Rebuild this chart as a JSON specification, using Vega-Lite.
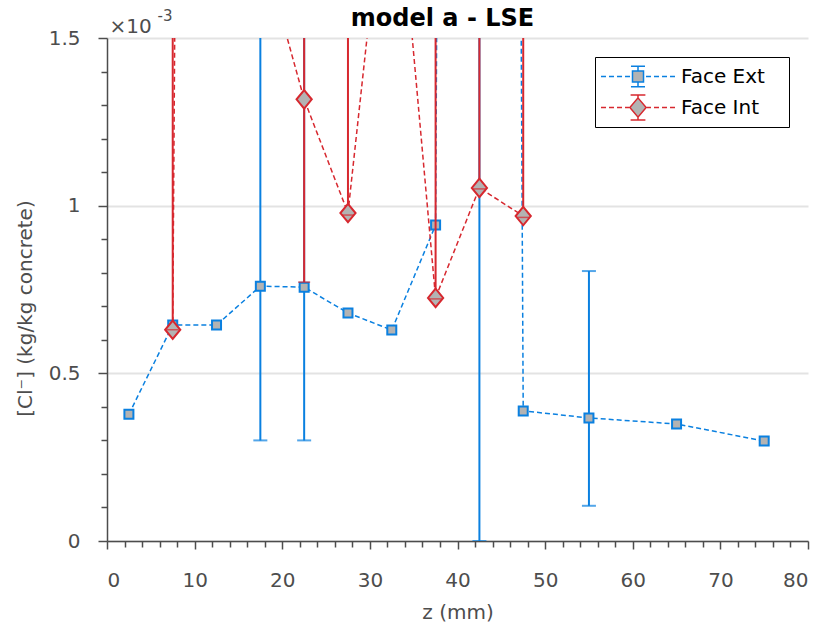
{
  "$schema": "https://vega.github.io/schema/vega-lite/v6.json",
  "autosize": "none",
  "width": 701,
  "height": 503,
  "padding": {"left": 107, "top": 38, "right": 14, "bottom": 84},
  "background": "white",
  "config": {
    "view": {"stroke": null},
    "font": "DejaVu Sans",
    "axis": {
      "labelFont": "DejaVu Sans",
      "titleFont": "DejaVu Sans",
      "labelFontSize": 20,
      "titleFontSize": 20,
      "titleFontWeight": "normal",
      "labelColor": "#4d4d4d",
      "titleColor": "#4d4d4d",
      "domainColor": "#4d4d4d",
      "tickColor": "#4d4d4d",
      "domainWidth": 1.5,
      "tickWidth": 1.5,
      "gridColor": "#e3e3e3",
      "gridWidth": 2,
      "gridOpacity": 1
    },
    "legend": {
      "labelFont": "DejaVu Sans",
      "labelFontSize": 20,
      "labelColor": "black"
    }
  },
  "data": {
    "values": [
      {"series": "Face Ext", "z": 2.5, "c": 0.000378},
      {"series": "Face Ext", "z": 7.5, "c": 0.000644},
      {"series": "Face Ext", "z": 12.5, "c": 0.000644},
      {"series": "Face Ext", "z": 17.5, "c": 0.00076, "lo": 0.0003, "hi": 0.0025},
      {"series": "Face Ext", "z": 22.5, "c": 0.000757, "lo": 0.0003, "hi": 0.0025},
      {"series": "Face Ext", "z": 27.5, "c": 0.00068},
      {"series": "Face Ext", "z": 32.5, "c": 0.000629},
      {"series": "Face Ext", "z": 37.5, "c": 0.000942},
      {"series": "Face Ext", "z": 42.5, "c": 0.025, "lo": 0, "hi": 0.05},
      {"series": "Face Ext", "z": 47.5, "c": 0.000388},
      {"series": "Face Ext", "z": 55, "c": 0.000367, "lo": 0.000105, "hi": 0.000805},
      {"series": "Face Ext", "z": 65, "c": 0.000349},
      {"series": "Face Ext", "z": 75, "c": 0.000298},
      {"series": "Face Int", "z": 7.5, "c": 0.00063, "lo": 0.00063, "hi": 0.01},
      {"series": "Face Int", "z": 12.5, "c": 0.02},
      {"series": "Face Int", "z": 17.5, "c": 0.00179},
      {"series": "Face Int", "z": 22.5, "c": 0.001317, "lo": 0.000772, "hi": 0.005},
      {"series": "Face Int", "z": 27.5, "c": 0.000978, "lo": 0.000972, "hi": 0.005},
      {"series": "Face Int", "z": 32.5, "c": 0.00218},
      {"series": "Face Int", "z": 37.5, "c": 0.000725, "lo": 0.000722, "hi": 0.005},
      {"series": "Face Int", "z": 42.5, "c": 0.001053, "lo": 0.00105, "hi": 0.005},
      {"series": "Face Int", "z": 47.5, "c": 0.000969, "lo": 0.000965, "hi": 0.005}
    ]
  },
  "resolve": {"axis": {"x": "independent", "y": "independent"}},
  "layer": [
    {
      "transform": [{"filter": "datum.series === 'Face Ext'"}],
      "mark": {"type": "line", "clip": true, "color": "#0a80e0", "strokeWidth": 1.5, "strokeDash": [5, 3]},
      "encoding": {
        "x": {"field": "z", "type": "quantitative", "scale": {"domain": [0, 80], "nice": false},
          "axis": {"orient": "bottom", "values": [0, 10, 20, 30, 40, 50, 60, 70, 80], "tickSize": 8, "labelPadding": 21, "grid": false, "title": "z (mm)", "titlePadding": 12}},
        "y": {"field": "c", "type": "quantitative", "scale": {"domain": [0, 0.0015], "nice": false, "zero": false},
          "axis": {"orient": "left", "values": [0, 0.0005, 0.001, 0.0015], "labelExpr": "format(datum.value*1000, '.2~f')", "tickSize": 9, "labelPadding": 18, "grid": true, "title": "[Cl⁻] (kg/kg concrete)", "titlePadding": 13, "titleY": 270}},
        "order": {"field": "z", "type": "quantitative"}
      }
    },
    {
      "transform": [{"filter": "datum.series === 'Face Ext' && isValid(datum.lo)"}],
      "mark": {"type": "rule", "clip": true, "color": "#0a80e0", "strokeWidth": 2},
      "encoding": {
        "x": {"field": "z", "type": "quantitative",
          "axis": {"orient": "bottom", "values": [2, 4, 6, 8, 12, 14, 16, 18, 22, 24, 26, 28, 32, 34, 36, 38, 42, 44, 46, 48, 52, 54, 56, 58, 62, 64, 66, 68, 72, 74, 76, 78], "labels": false, "domain": false, "grid": false, "tickSize": 6, "title": null}},
        "y": {"field": "lo", "type": "quantitative",
          "axis": {"orient": "left", "values": [0.0001, 0.0002, 0.0003, 0.0004, 0.0006, 0.0007, 0.0008, 0.0009, 0.0011, 0.0012, 0.0013, 0.0014], "labels": false, "domain": false, "grid": false, "tickSize": 6,
            "title": "×10", "titleAngle": 0, "titleAlign": "left", "titleBaseline": "alphabetic", "titleX": 2, "titleY": -6, "titleFontSize": 20}},
        "y2": {"field": "hi"}
      }
    },
    {
      "transform": [{"filter": "datum.series === 'Face Ext' && isValid(datum.lo)"}],
      "mark": {"type": "tick", "orient": "horizontal", "clip": true, "color": "#0a80e0", "size": 14, "thickness": 2},
      "encoding": {
        "x": {"field": "z", "type": "quantitative", "axis": null},
        "y": {"field": "lo", "type": "quantitative",
          "axis": {"orient": "left", "labels": false, "ticks": false, "domain": false, "grid": false,
            "title": "-3", "titleAngle": 0, "titleAlign": "left", "titleBaseline": "alphabetic", "titleX": 50, "titleY": -18, "titleFontSize": 15}}
      }
    },
    {
      "transform": [{"filter": "datum.series === 'Face Ext' && isValid(datum.hi)"}],
      "mark": {"type": "tick", "orient": "horizontal", "clip": true, "color": "#0a80e0", "size": 14, "thickness": 2},
      "encoding": {
        "x": {"field": "z", "type": "quantitative", "axis": null},
        "y": {"field": "hi", "type": "quantitative", "axis": null}
      }
    },
    {
      "transform": [{"filter": "datum.series === 'Face Ext'"}],
      "mark": {"type": "point", "clip": true, "shape": "square", "size": 81, "filled": true, "fill": "#b3b3b3", "stroke": "#0a80e0", "strokeWidth": 2, "opacity": 1},
      "encoding": {
        "x": {"field": "z", "type": "quantitative", "axis": null},
        "y": {"field": "c", "type": "quantitative", "axis": null}
      }
    },
    {
      "transform": [{"filter": "datum.series === 'Face Int'"}],
      "mark": {"type": "line", "clip": true, "color": "#d7282f", "strokeWidth": 1.5, "strokeDash": [5, 3]},
      "encoding": {
        "x": {"field": "z", "type": "quantitative", "axis": null},
        "y": {"field": "c", "type": "quantitative", "axis": null},
        "order": {"field": "z", "type": "quantitative"}
      }
    },
    {
      "transform": [{"filter": "datum.series === 'Face Int' && isValid(datum.lo)"}],
      "mark": {"type": "rule", "clip": true, "color": "#d7282f", "strokeWidth": 2},
      "encoding": {
        "x": {"field": "z", "type": "quantitative", "axis": null},
        "y": {"field": "lo", "type": "quantitative", "axis": null},
        "y2": {"field": "hi"}
      }
    },
    {
      "transform": [{"filter": "datum.series === 'Face Int'"}],
      "mark": {"type": "point", "clip": true, "shape": "M0,-1.15L0.95,0L0,1.15L-0.95,0Z", "size": 256, "filled": true, "fill": "#b3b3b3", "stroke": "#d7282f", "strokeWidth": 2, "opacity": 1},
      "encoding": {
        "x": {"field": "z", "type": "quantitative", "axis": null},
        "y": {"field": "c", "type": "quantitative", "axis": null}
      }
    },
    {
      "transform": [{"filter": "datum.series === 'Face Int' && isValid(datum.lo)"}],
      "mark": {"type": "tick", "orient": "horizontal", "clip": true, "color": "#d7282f", "size": 12, "thickness": 1.5},
      "encoding": {
        "x": {"field": "z", "type": "quantitative", "axis": null},
        "y": {"field": "lo", "type": "quantitative", "axis": null}
      }
    },
    {
      "mark": {"type": "point", "clip": true, "opacity": 0, "filled": true, "fill": "#b3b3b3", "strokeWidth": 1.5},
      "encoding": {
        "x": {"field": "z", "type": "quantitative",
          "axis": {"orient": "top", "labels": false, "ticks": false, "domain": false, "grid": false,
            "title": "model a - LSE", "titleFontSize": 24, "titleFontWeight": "bold", "titleColor": "black", "titleAngle": 0, "titleAlign": "center", "titleBaseline": "alphabetic", "titleX": 335, "titleY": -13}},
        "y": {"field": "c", "type": "quantitative", "axis": null},
        "stroke": {"field": "series", "type": "nominal",
          "scale": {"domain": ["Face Ext", "Face Int"], "range": ["#0a80e0", "#d7282f"]},
          "legend": {"title": null, "orient": "top-right", "offset": 19, "padding": 5, "clipHeight": 29, "symbolSize": 5476, "symbolOpacity": 1, "symbolFillColor": "#b3b3b3", "symbolStrokeWidth": 1.5, "labelOffset": 5, "strokeColor": "black", "fillColor": "white", "labelExpr": "datum.label + '\u00a0\u00a0\u00a0\u200b'"}},
        "shape": {"field": "series", "type": "nominal",
          "scale": {"domain": ["Face Ext", "Face Int"], "range": [
            "M-1,0L-0.865,0M-0.784,0L-0.649,0M-0.568,0L-0.432,0M-0.351,0L-0.216,0M0.216,0L0.351,0M0.432,0L0.568,0M0.649,0L0.784,0M0.865,0L1,0M-0.149,-0.149L0.149,-0.149L0.149,0.149L-0.149,0.149ZM0,-0.149L0,-0.28M0,0.149L0,0.28M-0.19,-0.28L0.19,-0.28M-0.19,0.28L0.19,0.28",
            "M-1,0L-0.865,0M-0.784,0L-0.649,0M-0.568,0L-0.432,0M-0.351,0L-0.24,0M0.24,0L0.351,0M0.432,0L0.568,0M0.649,0L0.784,0M0.865,0L1,0M0,-0.26L0.22,0L0,0.26L-0.22,0ZM0,-0.26L0,-0.34M0,0.26L0,0.34M-0.2,-0.34L0.2,-0.34M-0.2,0.34L0.2,0.34"
          ]},
          "legend": {"title": null, "orient": "top-right", "offset": 19, "padding": 5, "clipHeight": 29, "symbolSize": 5476, "symbolOpacity": 1, "symbolFillColor": "#b3b3b3", "symbolStrokeWidth": 1.5, "labelOffset": 5, "strokeColor": "black", "fillColor": "white", "labelExpr": "datum.label + '\u00a0\u00a0\u00a0\u200b'"}}
      }
    }
  ]
}
